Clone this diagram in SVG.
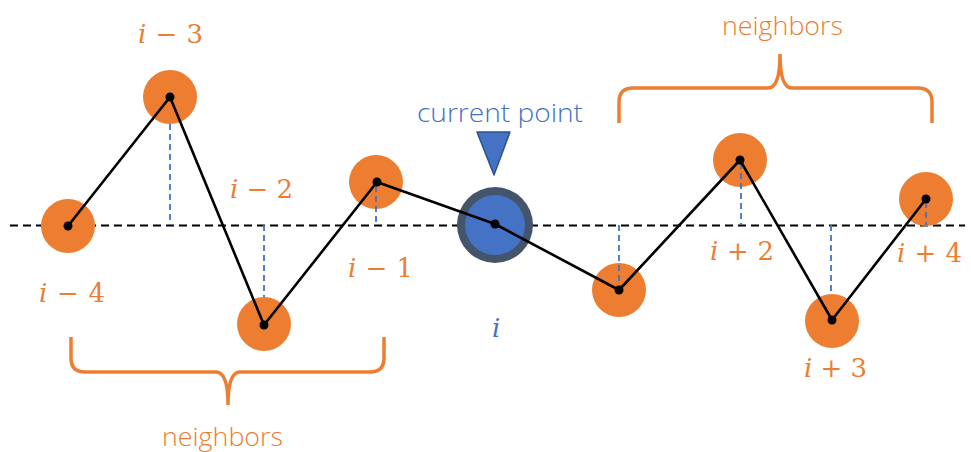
<svg xmlns="http://www.w3.org/2000/svg" width="971" height="452" viewBox="0 0 971 452">
<style>
.pt{fill:#ED7D31}
.dot{fill:#000}
.vd{stroke:#4472C4;stroke-width:1.8;stroke-dasharray:6 4;fill:none}
.lbl{font-family:"DejaVu Serif","Liberation Serif",serif;font-size:26px;fill:#ED7D31}
.it{font-style:italic}
.brace{fill:none;stroke:#ED7D31;stroke-width:3.5}
.nb{font-family:"Open Sans","Noto Sans",sans-serif;font-size:25px;fill:#ED7D31;font-weight:300}
</style>
<rect width="971" height="452" fill="#fff"/>
<g id="baseline"><line x1="10" y1="225.5" x2="965" y2="225.5" stroke="#000" stroke-width="1.8" stroke-dasharray="8 5"/></g>
<g id="nodes-circles">
<g id="n-i-4"><circle class="pt" cx="68" cy="226" r="27"/></g>
<g id="n-i-3"><circle class="pt" cx="170" cy="97" r="27"/></g>
<g id="n-i-2"><circle class="pt" cx="264" cy="324" r="27"/></g>
<g id="n-i-1"><circle class="pt" cx="376" cy="182" r="27"/></g>
<g id="n-i"><circle cx="495" cy="225" r="38" fill="#44546A"/><circle cx="495" cy="225" r="30" fill="#4472C4"/></g>
<g id="n-i+1"><circle class="pt" cx="619" cy="290" r="27"/></g>
<g id="n-i+2"><circle class="pt" cx="740" cy="160" r="27"/></g>
<g id="n-i+3"><circle class="pt" cx="832" cy="321" r="27"/></g>
<g id="n-i+4"><circle class="pt" cx="926" cy="199" r="27"/></g>
</g>
<g id="verticals">
<line class="vd" x1="170" y1="124" x2="170" y2="225"/>
<line class="vd" x1="264" y1="225" x2="264" y2="297"/>
<line class="vd" x1="376" y1="186" x2="376" y2="225"/>
<line class="vd" x1="619" y1="225" x2="619" y2="288"/>
<line class="vd" x1="741" y1="163" x2="741" y2="225"/>
<line class="vd" x1="831" y1="225" x2="831" y2="294"/>
<line class="vd" x1="926" y1="202" x2="926" y2="225"/>
</g>
<g id="connectors">
<polyline points="68,226 170,97 264,325 377,182 495,224 619,290 740,160 832,320 926,199" fill="none" stroke="#000" stroke-width="2.6" stroke-linejoin="round"/>
</g>
<g id="dots">
<circle class="dot" cx="68" cy="226" r="4.5"/>
<circle class="dot" cx="170" cy="97" r="4.5"/>
<circle class="dot" cx="264" cy="325" r="4.5"/>
<circle class="dot" cx="377" cy="182" r="4.5"/>
<circle class="dot" cx="495" cy="224" r="4.5"/>
<circle class="dot" cx="619" cy="290" r="4.5"/>
<circle class="dot" cx="740" cy="160" r="4.5"/>
<circle class="dot" cx="832" cy="320" r="4.5"/>
<circle class="dot" cx="926" cy="199" r="4.5"/>
</g>
<g id="labels">
<text class="lbl" x="138" y="43" textLength="65" lengthAdjust="spacing"><tspan class="it">i</tspan> − 3</text>
<text class="lbl" x="230" y="198" textLength="63" lengthAdjust="spacing"><tspan class="it">i</tspan> − 2</text>
<text class="lbl" x="39" y="302" textLength="66" lengthAdjust="spacing"><tspan class="it">i</tspan> − 4</text>
<text class="lbl" x="348" y="277" textLength="65" lengthAdjust="spacing"><tspan class="it">i</tspan> − 1</text>
<text class="lbl it" x="492" y="337" style="fill:#4472C4">i</text>
<text class="lbl" x="710" y="260" textLength="64" lengthAdjust="spacing"><tspan class="it">i</tspan> + 2</text>
<text class="lbl" x="804" y="377" textLength="63" lengthAdjust="spacing"><tspan class="it">i</tspan> + 3</text>
<text class="lbl" x="897" y="262" textLength="65" lengthAdjust="spacing"><tspan class="it">i</tspan> + 4</text>
</g>
<g id="current-point">
<text x="417" y="122" textLength="166" lengthAdjust="spacingAndGlyphs" style="font-family:'Open Sans','Noto Sans',sans-serif;font-size:25px;font-weight:300;fill:#4472C4">current point</text>
<polygon points="477,132 510,132 494,175" fill="#4472C4" stroke="#2F528F" stroke-width="1.5" stroke-linejoin="round"/>
</g>
<g id="brace-top">
<path class="brace" d="M619,123 L619,102 Q619,88 633,88 L768,88 Q780,88 780,54 Q780,88 792,88 L918,88 Q932,88 932,102 L932,123"/>
<text class="nb" x="722" y="35" textLength="121" lengthAdjust="spacingAndGlyphs">neighbors</text>
</g>
<g id="brace-bottom">
<path class="brace" d="M71,337 L71,358 Q71,372 85,372 L216,372 Q228,372 228,405 Q228,372 240,372 L370,372 Q384,372 384,358 L384,337"/>
<text class="nb" x="162" y="446" textLength="121" lengthAdjust="spacingAndGlyphs">neighbors</text>
</g>
</svg>
